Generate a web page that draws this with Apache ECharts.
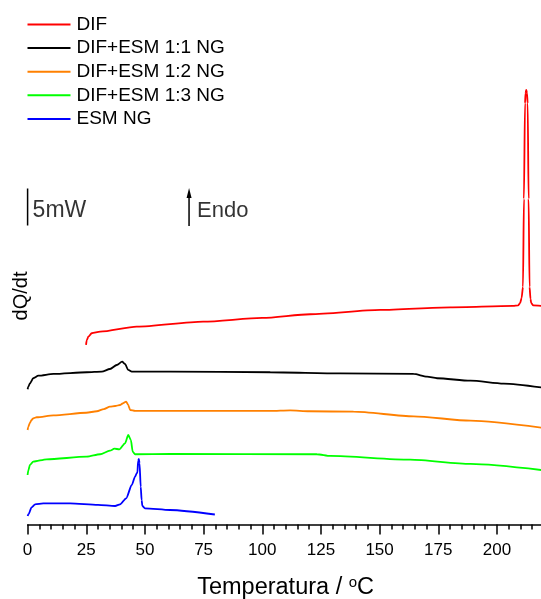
<!DOCTYPE html>
<html>
<head>
<meta charset="utf-8">
<script src="https://cdn.jsdelivr.net/npm/echarts@6/dist/echarts.min.js"></script>
<style>
  html, body { margin: 0; padding: 0; background: #fff; }
  #chart { width: 541px; height: 599px; }
</style>
</head>
<body>
<div id="chart"></div>
<script>
// DSC heat-flow curves (vertically offset, mW) versus temperature (°C)
const seriesNames = ['DIF', 'DIF+ESM 1:1 NG', 'DIF+ESM 1:2 NG', 'DIF+ESM 1:3 NG', 'ESM NG'];
const seriesColors = ['#ff0000', '#000000', '#ff8000', '#00ff00', '#0000ff'];

const difT = [24.9, 25.2, 25.9, 27.3, 30.9, 46.5, 74.8, 100, 120.4, 150.3, 180.1, 206.9, 209.0, 209.9, 210.5, 211.1, 211.5, 211.96, 212.2, 212.5, 212.8, 213.1, 213.5, 213.9, 214.3, 214.6, 215.5, 219];
const difQ = [24.26, 24.9, 25.38, 25.84, 26.05, 26.73, 27.41, 27.91, 28.41, 28.99, 29.35, 29.53, 29.6, 29.93, 30.6, 32.1, 44.0, 56.9, 58.3, 58.72, 58.3, 56.9, 44.0, 32.1, 30.5, 29.93, 29.6, 29.53];

const ng11T = [0, 0.3, 1.0, 2.4, 4.6, 11, 25.2, 31.6, 35.1, 38, 40.3, 41.5, 42.9, 44.4, 60.7, 103.4, 133.2, 164.5, 170.2, 174.5, 188.7, 202.9, 219];
const ng11Q = [18.27, 18.62, 19.08, 19.76, 20.11, 20.34, 20.57, 20.65, 21.01, 21.55, 22.0, 21.69, 20.88, 20.65, 20.65, 20.57, 20.43, 20.34, 19.97, 19.76, 19.43, 19.03, 18.51];

const ng12T = [0, 0.3, 1.0, 1.7, 2.4, 3.9, 11, 25, 29.5, 32.5, 35.1, 37.3, 39.4, 40.5, 42, 42.8, 43.7, 45.8, 60, 103.4, 111.9, 120, 138.9, 164.5, 188.7, 219];
const ng12Q = [12.77, 13.2, 13.75, 14.12, 14.35, 14.49, 14.75, 15.1, 15.3, 15.6, 15.92, 16.01, 16.15, 16.35, 16.59, 16.2, 15.47, 15.34, 15.34, 15.34, 15.43, 15.3, 15.24, 14.62, 14.03, 13.08];

const ng13T = [0, 0.3, 1.0, 2.4, 8.1, 25.2, 30.9, 35.1, 37, 39.1, 41.5, 42.9, 44, 44.8, 45.8, 60.7, 123.3, 129, 163, 188.7, 219];
const ng13Q = [6.69, 7.3, 8.04, 8.49, 8.81, 9.16, 9.49, 9.97, 10.24, 10.16, 10.97, 12.09, 11.42, 9.84, 9.49, 9.53, 9.49, 9.26, 8.76, 8.18, 7.36];

const esmT = [0, 0.4, 1.7, 3.2, 6.7, 18.1, 30, 37.3, 39.4, 42, 44.4, 45.8, 46.5, 46.8, 47.1, 47.4, 47.7, 48.2, 48.6, 48.9, 50, 60.7, 79.8];
const esmQ = [1.15, 1.4, 2.32, 2.73, 2.86, 2.86, 2.65, 2.5, 2.73, 3.54, 5.34, 6.46, 6.92, 7.05, 8.6, 8.85, 8.3, 5.11, 3.3, 2.5, 2.19, 1.96, 1.35];

// 5 mW scale bar and endothermic direction arrow
const scaleBarT = [0, 0];
const scaleBarQ = [40.4, 45.4];
const endoArrowT = [68.8, 68.8];
const endoArrowQ = [40.34, 44.8];
const annotLabelQ = 42.36;

// x axis ticks
const tempMin = 0;
const tempMax = 225;
const tempStep = 25;
const heatMax = 61.75;

const curveT = [difT, ng11T, ng12T, ng13T, esmT];
const curveQ = [difQ, ng11Q, ng12Q, ng13Q, esmQ];

const font = "'Liberation Sans', Arial, sans-serif";
const zip = (xs, ys) => xs.map((x, i) => [x, ys[i]]);

const curveSeries = seriesNames.map((name, k) => ({
  name: name,
  type: 'line',
  data: zip(curveT[k], curveQ[k]),
  showSymbol: false,
  symbol: 'none',
  smooth: 0.25,
  smoothMonotone: 'x',
  lineStyle: { color: seriesColors[k], width: 1.8 },
  itemStyle: { color: seriesColors[k] },
  z: 3
}));

const chart = echarts.init(document.getElementById('chart'), null, { renderer: 'canvas' });

chart.setOption({
  animation: false,
  backgroundColor: '#ffffff',
  textStyle: { fontFamily: font },
  // the axis runs on to 225 past the right border, so the 25/5 tick pattern stays regular
  grid: { left: 27.6, width: 528, top: 67.5, bottom: 74.5, containLabel: false, outerBoundsMode: 'none' },
  legend: {
    data: seriesNames,
    orient: 'vertical',
    left: 26.5,
    top: 15,
    padding: 0,
    itemWidth: 43,
    itemHeight: 2,
    itemGap: 4.6,
    itemStyle: { opacity: 0 },
    textStyle: { fontSize: 19, color: '#000', fontFamily: font, lineHeight: 19, padding: [0, 0, 0, 1] }
  },
  xAxis: {
    type: 'value',
    min: tempMin,
    max: tempMax,
    interval: tempStep,
    name: 'Temperatura / {sup|o}C',
    nameLocation: 'middle',
    nameGap: 51,
    nameTextStyle: {
      fontSize: 23.5, color: '#000', fontFamily: font, padding: [0, 12, 0, 0],
      rich: { sup: { fontSize: 15, lineHeight: 10, verticalAlign: 'top', color: '#000', fontFamily: font } }
    },
    axisLine: { show: true, lineStyle: { color: '#000', width: 1.5 } },
    axisTick: { show: true, inside: false, length: 10, lineStyle: { color: '#000', width: 1.5 } },
    minorTick: { show: true, splitNumber: 5, length: 5, lineStyle: { color: '#000', width: 1.5 } },
    axisLabel: { fontSize: 17, color: '#000', margin: 17, showMaxLabel: false, fontFamily: font },
    splitLine: { show: false },
    minorSplitLine: { show: false }
  },
  yAxis: {
    type: 'value',
    min: 0,
    max: heatMax,
    name: 'dQ/dt',
    nameLocation: 'middle',
    nameGap: -4,
    nameTextStyle: { fontSize: 20, color: '#000', fontFamily: font, padding: [0, 0, 0, 0] },
    axisLine: { show: false },
    axisTick: { show: false },
    axisLabel: { show: false },
    splitLine: { show: false }
  },
  series: curveSeries.concat([
    {
      name: 'scale',
      type: 'line',
      data: zip(scaleBarT, scaleBarQ),
      symbol: 'none',
      lineStyle: { color: '#000', width: 1.5 },
      silent: true
    },
    {
      name: 'endo',
      type: 'line',
      data: [
        { value: [endoArrowT[0], endoArrowQ[0]], symbol: 'none' },
        { value: [endoArrowT[1], endoArrowQ[1]], symbol: 'triangle', symbolSize: [5, 10] }
      ],
      showSymbol: true,
      showAllSymbol: true,
      lineStyle: { color: '#000', width: 1.5 },
      itemStyle: { color: '#000' },
      silent: true
    },
    {
      name: 'annot',
      type: 'scatter',
      symbolSize: 0,
      silent: true,
      data: [
        { value: [scaleBarT[0], annotLabelQ], label: { formatter: '5mW', distance: 5, fontSize: 23 } },
        { value: [endoArrowT[0], annotLabelQ], label: { formatter: 'Endo', distance: 8 } }
      ],
      label: { show: true, position: 'right', fontSize: 22, color: '#000', fontFamily: font }
    }
  ])
});
</script>
</body>
</html>
